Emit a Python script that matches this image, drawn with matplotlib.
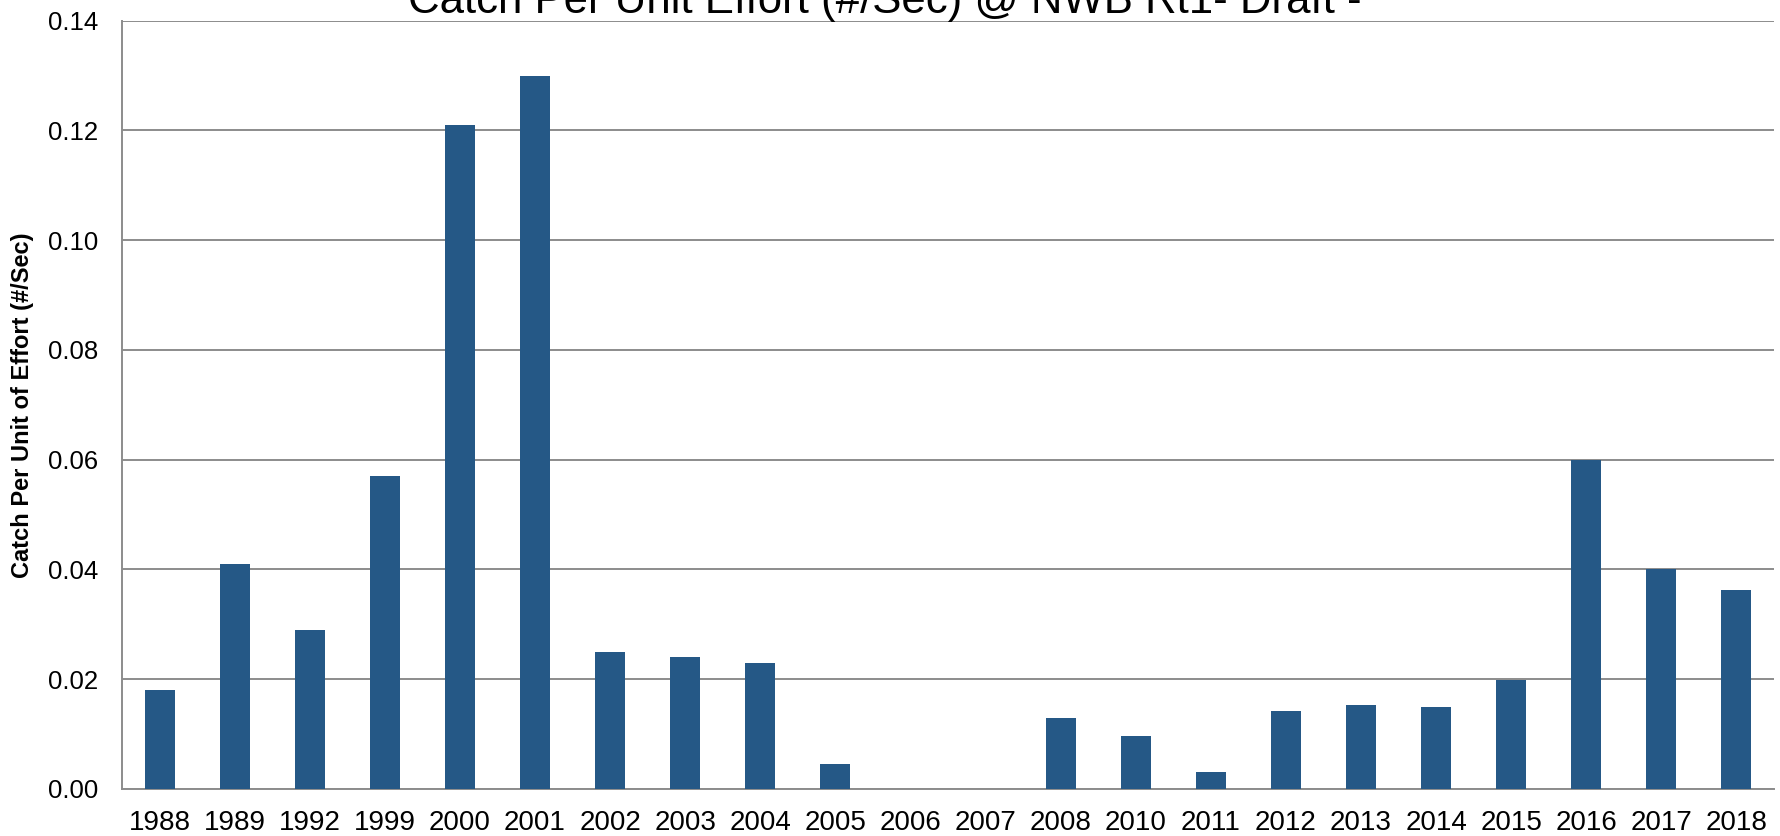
import matplotlib
matplotlib.use("Agg")
import matplotlib.pyplot as plt

years = ["1988", "1989", "1992", "1999", "2000", "2001", "2002", "2003", "2004", "2005", "2006",
         "2007", "2008", "2010", "2011", "2012", "2013", "2014", "2015", "2016", "2017", "2018"]
cpue = [0.018, 0.041, 0.029, 0.057, 0.121, 0.130, 0.025, 0.024, 0.023, 0.0046, 0.0,
        0.0, 0.013, 0.0097, 0.0031, 0.0143, 0.0153, 0.0149, 0.0199, 0.060, 0.040, 0.0362]
yticks = [0.00, 0.02, 0.04, 0.06, 0.08, 0.10, 0.12, 0.14]
title = "Catch Per Unit Effort (#/Sec) @ NWB Rt1- Draft -"
ylabel = "Catch Per Unit of Effort (#/Sec)"

plt.rcParams['font.family'] = ['Liberation Sans', 'DejaVu Sans']

W, H = 1781, 836
fig = plt.figure(figsize=(W / 100, H / 100), dpi=100)
ax = fig.add_axes([122 / W, 1 - 789 / H, (1774 - 122) / W, (789 - 20.7) / H])

x = list(range(len(years)))
ax.bar(x, cpue, width=0.4, color='#255886', zorder=3)

ax.set_xlim(-0.5, len(years) - 0.5)
ax.set_ylim(0, 0.14)
ax.set_yticks(yticks)
ax.set_yticklabels([f"{v:.2f}" for v in yticks], fontsize=18.5)
ax.set_xticks(x)
ax.set_xticklabels(years, fontsize=20)
ax.tick_params(axis='y', length=0, pad=17)
ax.tick_params(axis='x', length=0, pad=15)

ax.grid(axis='y', color='#8c8c8c', linewidth=1.4, zorder=0)
for s in ['top', 'right']:
    ax.spines[s].set_visible(False)
for s in ['left', 'bottom']:
    ax.spines[s].set_color('#8c8c8c')
    ax.spines[s].set_linewidth(1.4)

fig.text(23 / W, 0.515, ylabel, rotation=90, ha='center', va='center',
         fontsize=17, fontweight='bold')
fig.text(884.5 / W, 1 - 12.5 / H, title, ha='center', va='baseline', fontsize=31.5)

fig.savefig("out.png", dpi=100)
